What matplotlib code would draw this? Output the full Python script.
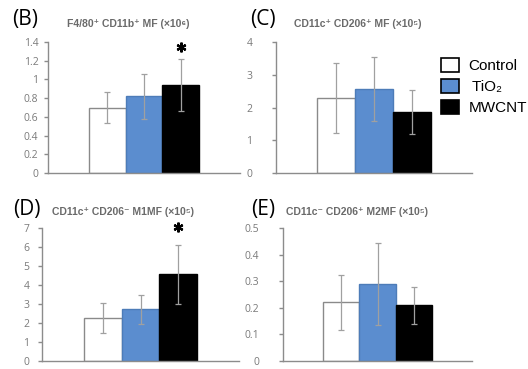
import numpy as np
import matplotlib
matplotlib.use('Agg')
from matplotlib import pyplot as plt
from matplotlib.patches import Patch

# Data

groups = ['Control', ' TiO\u2082', 'MWCNT']
bar_colors = ['white', '#5b8dcf', 'black']
edge_colors = ['#8a8a8a', '#4d7cb8', 'black']

b_mean = [0.70, 0.82, 0.94]
b_err = [0.17, 0.24, 0.28]

c_mean = [2.28, 2.57, 1.85]
c_err = [1.07, 0.97, 0.67]

d_mean = [2.28, 2.72, 4.57]
d_err = [0.79, 0.75, 1.55]

e_mean = [0.22, 0.29, 0.21]
e_err = [0.105, 0.155, 0.07]

b_ticks = [0, 0.2, 0.4, 0.6, 0.8, 1, 1.2, 1.4]
b_ticklabels = ['0', '0.2', '0.4', '0.6', '0.8', '1', '1.2', '1.4']
c_ticks = [0, 1, 2, 3, 4]
d_ticks = [0, 1, 2, 3, 4, 5, 6, 7]
e_ticks = [0, 0.1, 0.2, 0.3, 0.4, 0.5]

b_title = 'F4/80\u207a CD11b\u207a MF (\u00d710\u2076)'
c_title = 'CD11c\u207a CD206\u207a MF (\u00d710\u2075)'
d_title = 'CD11c\u207a CD206\u207b M1MF (\u00d710\u2075)'
e_title = 'CD11c\u207b CD206\u207a M2MF (\u00d710\u2075)'

# star (significance) at MWCNT in B and D
b_star = 1.35
d_star = 7.05

W, H = 528, 369
fig = plt.figure(figsize=(W / 100, H / 100), dpi=100)

sans = ['Liberation Sans', 'DejaVu Sans']
gray_txt = '#7a7a7a'
spine_col = '#8c8c8c'


def px_axes(left, right, top, bottom):
    return fig.add_axes([left / W, 1 - bottom / H, (right - left) / W, (bottom - top) / H])


def draw_panel(ax, mean, err, ticks, ticklabels, pad):
    x = np.arange(len(mean)) - 1
    ax.bar(x, mean, width=1.0, color=bar_colors, edgecolor=edge_colors, linewidth=1, zorder=2)
    ax.errorbar(x, mean, yerr=err, fmt='none', ecolor='#a0a0a0', elinewidth=0.9,
                capsize=2.5, capthick=0.9, zorder=3)
    ax.set_xlim(-2.6, 2.6)
    ax.set_ylim(ticks[0], ticks[-1])
    ax.set_yticks(ticks)
    ax.set_yticklabels(ticklabels, fontsize=7.5, color=gray_txt, family=['Open Sans', 'DejaVu Sans'])
    ax.set_xticks([])
    for s in ['top', 'right']:
        ax.spines[s].set_visible(False)
    for s in ['left', 'bottom']:
        ax.spines[s].set_color(spine_col)
        ax.spines[s].set_linewidth(1)
    ax.tick_params(axis='y', length=3, width=1, color=spine_col, pad=pad)
    ax.set_facecolor('none')


ax_b = px_axes(48, 240, 42, 173)
draw_panel(ax_b, b_mean, b_err, b_ticks, b_ticklabels, 4)
ax_b.plot(1, b_star, marker=(6, 2, 0), ms=7, mew=1.6, color='black', clip_on=False)

ax_c = px_axes(276, 472, 42, 173)
draw_panel(ax_c, c_mean, c_err, c_ticks, [str(t) for t in c_ticks], 14)

ax_d = px_axes(42, 239, 228, 361)
draw_panel(ax_d, d_mean, d_err, d_ticks, [str(t) for t in d_ticks], 6)
ax_d.plot(1, d_star, marker=(6, 2, 0), ms=7, mew=1.6, color='black', clip_on=False)

ax_e = px_axes(283, 472, 228, 361)
draw_panel(ax_e, e_mean, e_err, e_ticks, ['0', '0.1', '0.2', '0.3', '0.4', '0.5'], 14)

# Panel letters and titles

letters = [('(B)', 25, 19), ('(C)', 263, 19), ('(D)', 27, 210), ('(E)', 263, 210)]
for txt, xp, yp in letters:
    fig.text(xp / W, 1 - yp / H, txt, fontsize=15, ha='center', va='center',
             family=['Open Sans', 'DejaVu Sans'])

titles = [(b_title, 67, 24), (c_title, 294, 24), (d_title, 52, 212), (e_title, 286, 212)]
for txt, xp, yp in titles:
    fig.text(xp / W, 1 - yp / H, txt, fontsize=7.5, fontweight='bold', color='#6a6a6a',
             ha='left', va='center', family=sans)

# Legend

handles = [Patch(facecolor=bar_colors[i], edgecolor='black', linewidth=1.2, label=groups[i])
           for i in range(3)]
fig.legend(handles=handles, loc='upper left', bbox_to_anchor=(441 / W, 1 - 58 / H),
           frameon=False, fontsize=11, prop={'family': sans, 'size': 11},
           handlelength=1.2, handleheight=1.0, handletextpad=0.6, labelspacing=0.4,
           borderpad=0, borderaxespad=0)

fig.savefig('out.png', dpi=100)
